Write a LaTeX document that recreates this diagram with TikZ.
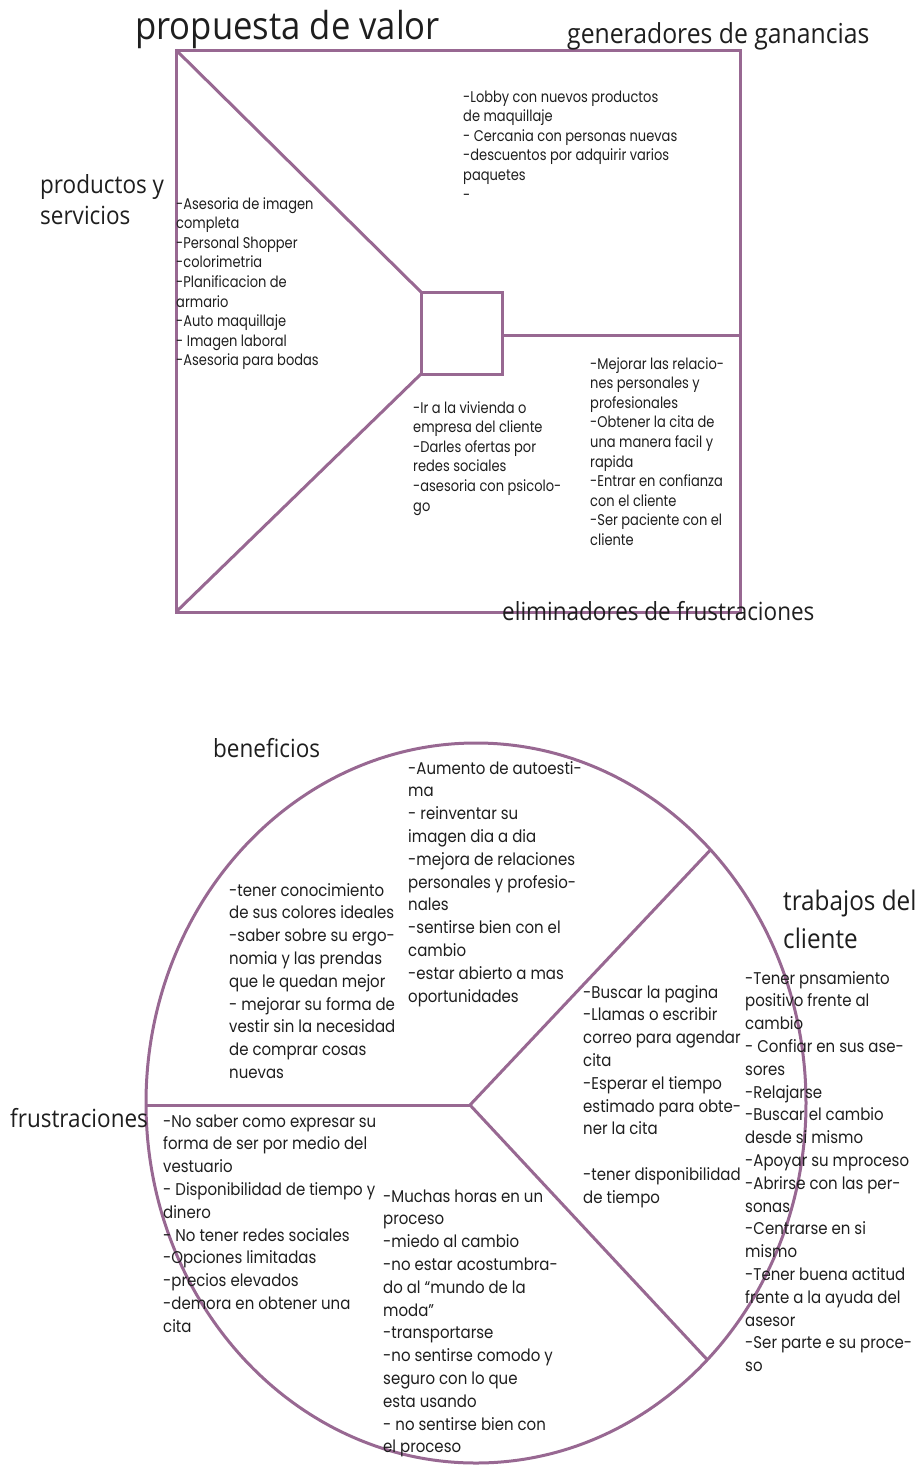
\documentclass[tikz,border=0pt]{standalone}
\usepackage{fontspec}
\usetikzlibrary{calc}
\newfontfamily\tfont[FakeStretch=0.9]{Open Sans}
\newfontfamily\bfont[FakeStretch=0.84]{Poppins}
\newfontfamily\cfont[FakeStretch=0.88]{Poppins}
\definecolor{lila}{RGB}{152,104,146}
\definecolor{ink}{RGB}{30,30,30}
\begin{document}
\begin{tikzpicture}[x=1pt,y=-1pt,
  frame/.style={draw=lila,line width=3pt,line join=miter},
  ttl/.style={font=\tfont\fontsize{25}{31}\selectfont,inner sep=0pt,anchor=base west,align=left,text=ink},
  txta/.style={font=\bfont\fontsize{15.5}{19.6}\selectfont,inner sep=0pt,anchor=base west,align=left,text=ink},
  txtb/.style={font=\cfont\fontsize{17}{22.8}\selectfont,inner sep=0pt,anchor=base west,align=left,text=ink}]
\useasboundingbox (0,0) rectangle (919,1467);
% ---- value proposition square ----
\coordinate (A) at (176,50);
\coordinate (B) at (740,50);
\coordinate (C) at (740,612);
\coordinate (D) at (176,612);
\coordinate (S1) at (421,292);
\coordinate (S2) at (502,292);
\coordinate (S3) at (502,374);
\coordinate (S4) at (421,374);
\coordinate (H0) at (502,335);
\coordinate (H1) at (740,335);
\draw[frame] (A) -- (B) -- (C) -- (D) -- cycle;
\draw[frame] (S1) -- (S2) -- (S3) -- (S4) -- cycle;
\draw[frame] (A) -- (S1);
\draw[frame] (D) -- (S4);
\draw[frame] (H0) -- (H1);
% ---- customer profile circle ----
\coordinate (O) at (476,1103);
\coordinate (J) at (470,1105);
\draw[frame] (O) ellipse [x radius=330, y radius=360];
\coordinate (L) at (146,1105);
\coordinate (U) at ($(O)+(-44.7:330 and 360)$);
\coordinate (W) at ($(O)+(45.5:330 and 360)$);
\draw[frame] (L) -- (J);
\draw[frame] (J) -- (U);
\draw[frame] (J) -- (W);
% ---- titles (anchored at the baseline of the last line) ----
\node[ttl,font=\tfont\fontsize{38.5}{44}\selectfont] (t1) at (135,39) {propuesta de valor};
\node[ttl,font=\tfont\fontsize{27.5}{31}\selectfont] (t2) at (567,43) {generadores de ganancias};
\node[ttl] (t3) at (40,224) {productos y\\servicios};
\node[ttl] (t4) at (502,620) {eliminadores de frustraciones};
\node[ttl] (t5) at (213,757) {beneficios};
\node[ttl,font=\tfont\fontsize{27}{38}\selectfont] (t6) at (783,948) {trabajos del\\cliente};
\node[ttl] (t7) at (10,1127) {frustraciones};
% ---- value proposition texts ----
\node[txta] (g1) at (463,200) {-Lobby con nuevos productos\\de maquillaje\\- Cercania con personas nuevas\\-descuentos por adquirir varios\\paquetes\\-};
\node[txta] (p1) at (176,365.8) {-Asesoria de imagen\\completa\\-Personal Shopper\\-colorimetria\\-Planificacion de\\armario\\-Auto maquillaje\\- Imagen laboral\\-Asesoria para bodas};
\node[txta] (e1) at (413,511) {-Ir a la vivienda o\\empresa del cliente\\-Darles ofertas por\\redes sociales\\-asesoria con psicolo-\\go};
\node[txta] (e2) at (590,545.4) {-Mejorar las relacio-\\nes personales y\\profesionales\\-Obtener la cita de\\una manera facil y\\rapida\\-Entrar en confianza\\con el cliente\\-Ser paciente con el\\cliente};
% ---- customer profile texts ----
\node[txtb] (b1) at (408,1002) {-Aumento de autoesti-\\ma\\- reinventar su\\imagen dia a dia\\-mejora de relaciones\\personales y profesio-\\nales\\-sentirse bien con el\\cambio\\-estar abierto a mas\\oportunidades};
\node[txtb] (b2) at (229,1078.4) {-tener conocimiento\\de sus colores ideales\\-saber sobre su ergo-\\nomia y las prendas\\que le quedan mejor\\- mejorar su forma de\\vestir sin la necesidad\\de comprar cosas\\nuevas};
\node[txtb] (c1) at (583,1203.2) {-Buscar la pagina\\-Llamas o escribir\\correo para agendar\\cita\\-Esperar el tiempo\\estimado para obte-\\ner la cita\\[22.8pt]-tener disponibilidad\\de tiempo};
\node[txtb] (c2) at (745,1371.6) {-Tener pnsamiento\\positivo frente al\\cambio\\- Confiar en sus ase-\\sores\\-Relajarse\\-Buscar el cambio\\desde si mismo\\-Apoyar su mproceso\\-Abrirse con las per-\\sonas\\-Centrarse en si\\mismo\\-Tener buena actitud\\frente a la ayuda del\\asesor\\-Ser parte e su proce-\\so};
\node[txtb] (f1) at (163,1332.2) {-No saber como expresar su\\forma de ser por medio del\\vestuario\\- Disponibilidad de tiempo y\\dinero\\- No tener redes sociales\\-Opciones limitadas\\-precios elevados\\-demora en obtener una\\cita};
\node[txtb] (f2) at (383,1452.8) {-Muchas horas en un\\proceso\\-miedo al cambio\\-no estar acostumbra-\\do al “mundo de la\\moda”\\-transportarse\\-no sentirse comodo y\\seguro con lo que\\esta usando\\- no sentirse bien con\\el proceso};
\end{tikzpicture}
\end{document}
